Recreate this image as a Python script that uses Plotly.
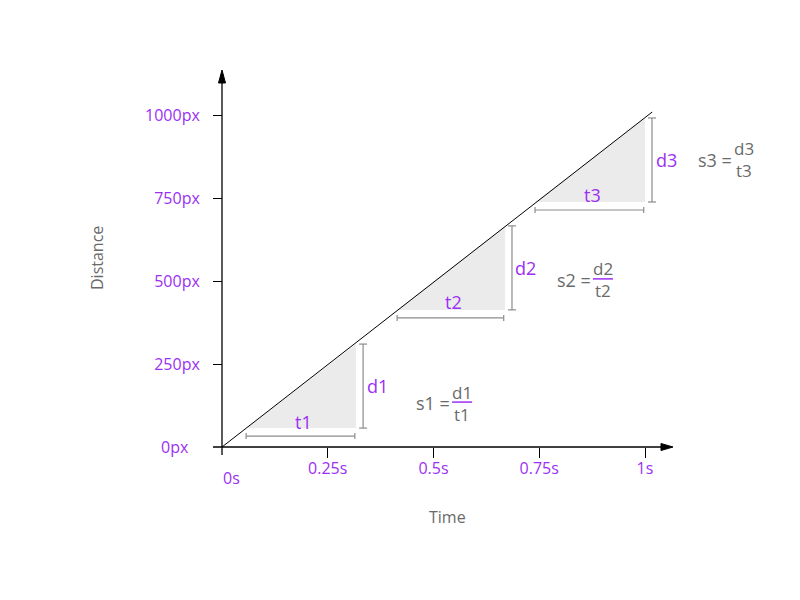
import plotly.graph_objects as go

# ---- data ----
line_t = [0.0, 1.017]
line_d = [0.0, 1009.0]

seg_names = ["1", "2", "3"]
t_start = [0.057, 0.414, 0.740]
t_end = [0.317, 0.669, 1.000]
d_start = [57.0, 413.0, 738.0]
d_end = [310.0, 666.0, 991.0]

x_tickvals = [0.25, 0.5, 0.75, 1.0]
x_ticktext = ["0.25s", "0.5s", "0.75s", "1s"]
y_tickvals = [250, 500, 750, 1000]
y_ticktext = ["250px", "500px", "750px", "1000px"]

# ---- styles ----
PURPLE = "#9b30f5"
GRAY_TXT = "#6a6a6a"
DIM = "#8c8c8c"
FILL = "#ebebeb"
FONT = "Open Sans"

# page offset (browser body margin)
OFF = 8
# geometry of the plot area (pixels, in screenshot coordinates)
W, H = 800, 600
L, R, T, B = 213 - OFF, 120 + OFF, 60 - OFF, 145 + OFF
pw, ph = W - L - R, H - T - B
x0_px, y0_px = 222 - OFF, 447 - OFF
x_scale = 423.0   # px per second
y_scale = 0.332   # px per distance px
x_range = [(L - x0_px) / x_scale, (W - R - x0_px) / x_scale]
y_range = [(y0_px - (H - B)) / y_scale, (y0_px - T) / y_scale]

fig = go.Figure()

# shaded triangles
for i in range(3):
    fig.add_trace(go.Scatter(
        x=[t_start[i], t_end[i], t_end[i], t_start[i]],
        y=[d_start[i], d_start[i], d_end[i], d_start[i]],
        fill="toself", fillcolor=FILL, mode="lines",
        line=dict(width=0, color=FILL), hoverinfo="skip", showlegend=False))

# main line
fig.add_trace(go.Scatter(x=line_t, y=line_d, mode="lines",
                         line=dict(color="black", width=1), showlegend=False))

shapes = []
annotations = []

# axes lines and arrowheads (pixel-sized relative to origin)
shapes.append(dict(type="line", xref="x", yref="y", xsizemode="pixel", ysizemode="pixel",
                   xanchor=0, yanchor=0, x0=-9, x1=441, y0=0, y1=0,
                   line=dict(color="black", width=1.3)))
shapes.append(dict(type="path", xref="x", yref="y", xsizemode="pixel", ysizemode="pixel",
                   xanchor=0, yanchor=0, path="M 439,3.5 L 451,0 L 439,-3.5 Z",
                   fillcolor="black", line=dict(color="black", width=1)))
shapes.append(dict(type="line", xref="x", yref="y", xsizemode="pixel", ysizemode="pixel",
                   xanchor=0, yanchor=0, x0=0, x1=0, y0=-10, y1=365,
                   line=dict(color="black", width=1.3)))
shapes.append(dict(type="path", xref="x", yref="y", xsizemode="pixel", ysizemode="pixel",
                   xanchor=0, yanchor=0, path="M -3.5,364 L 0,377 L 3.5,364 Z",
                   fillcolor="black", line=dict(color="black", width=1)))

s_dx = [60, 52, 53]
s_dy = [17, 12, 0]
t_dy = [6, 8, 7]
for i in range(3):
    n = seg_names[i]
    ymid = (d_start[i] + d_end[i]) / 2
    tmid = (t_start[i] + t_end[i]) / 2
    # t dimension (horizontal) below triangle
    shapes.append(dict(type="line", xref="x", yref="y", ysizemode="pixel", yanchor=d_start[i],
                       x0=t_start[i], x1=t_end[i] - 0.003, y0=-8, y1=-8,
                       line=dict(color=DIM, width=1.2)))
    for xx in (t_start[i], t_end[i] - 0.003):
        shapes.append(dict(type="line", xref="x", yref="y", ysizemode="pixel", yanchor=d_start[i],
                           x0=xx, x1=xx, y0=-5, y1=-11, line=dict(color=DIM, width=1.2)))
    # d dimension (vertical) right of triangle
    shapes.append(dict(type="line", xref="x", yref="y", xsizemode="pixel", xanchor=t_end[i],
                       x0=7, x1=7, y0=d_start[i], y1=d_end[i],
                       line=dict(color=DIM, width=1.2)))
    for yy in (d_start[i], d_end[i]):
        shapes.append(dict(type="line", xref="x", yref="y", xsizemode="pixel", xanchor=t_end[i],
                           x0=3, x1=11, y0=yy, y1=yy, line=dict(color=DIM, width=1.2)))
    # labels
    annotations.append(dict(x=tmid, y=d_start[i], xref="x", yref="y", text="t" + n,
                            showarrow=False, yshift=t_dy[i], xshift=2,
                            font=dict(color=PURPLE, size=18, family=FONT)))
    annotations.append(dict(x=t_end[i], y=ymid, xref="x", yref="y", text="d" + n,
                            showarrow=False, xshift=21,
                            font=dict(color=PURPLE, size=18, family=FONT)))
    # speed formula
    annotations.append(dict(x=t_end[i], y=ymid, xref="x", yref="y", text="s" + n + " =",
                            showarrow=False, xanchor="left", xshift=s_dx[i] - 2, yshift=-s_dy[i],
                            font=dict(color=GRAY_TXT, size=18, family=FONT)))
    annotations.append(dict(x=t_end[i], y=ymid, xref="x", yref="y", text="d" + n,
                            showarrow=False, xshift=s_dx[i] + 46, yshift=-s_dy[i] + 11,
                            borderpad=0,
                            font=dict(color=GRAY_TXT, size=17, family=FONT)))
    annotations.append(dict(x=t_end[i], y=ymid, xref="x", yref="y", text="t" + n,
                            showarrow=False, xshift=s_dx[i] + 46, yshift=-s_dy[i] - 11,
                            borderpad=0,
                            font=dict(color=GRAY_TXT, size=17, family=FONT)))
    shapes.append(dict(type="line", xref="x", yref="y", xsizemode="pixel", ysizemode="pixel",
                       xanchor=t_end[i], yanchor=ymid,
                       x0=s_dx[i] + 36, x1=s_dx[i] + 56, y0=-s_dy[i] + 1, y1=-s_dy[i] + 1,
                       line=dict(color=PURPLE, width=1.5)))

# origin labels
annotations.append(dict(x=0, y=0, xref="x", yref="y", text="0px", showarrow=False,
                        xshift=-47, font=dict(color=PURPLE, size=16, family=FONT)))
annotations.append(dict(x=0, y=0, xref="x", yref="y", text="0s", showarrow=False,
                        xshift=9, yshift=-31, font=dict(color=PURPLE, size=16, family=FONT)))
# axis titles
annotations.append(dict(x=0, y=0, xref="x", yref="y", text="Distance", showarrow=False,
                        textangle=-90, xshift=-125, yshift=189,
                        font=dict(color=GRAY_TXT, size=16, family=FONT)))
annotations.append(dict(x=0, y=0, xref="x", yref="y", text="Time", showarrow=False,
                        xshift=225, yshift=-70,
                        font=dict(color=GRAY_TXT, size=16, family=FONT)))

fig.update_layout(
    width=W, height=H,
    margin=dict(l=L, r=R, t=T, b=B),
    paper_bgcolor="white", plot_bgcolor="white",
    showlegend=False,
    shapes=shapes, annotations=annotations,
    xaxis=dict(range=x_range, tickvals=x_tickvals, ticktext=x_ticktext,
               anchor="free", position=(H - B - y0_px) / ph,
               ticks="outside", ticklen=10, tickcolor="black", tickwidth=1.3,
               ticklabelstandoff=-3,
               showgrid=False, zeroline=False, showline=False,
               tickfont=dict(color=PURPLE, size=16, family=FONT)),
    yaxis=dict(range=y_range, tickvals=y_tickvals, ticktext=y_ticktext,
               anchor="free", position=(x0_px - L) / pw,
               ticks="outside", ticklen=9, tickcolor="black", tickwidth=1.3,
               ticklabelstandoff=10,
               showgrid=False, zeroline=False, showline=False,
               tickfont=dict(color=PURPLE, size=16, family=FONT)),
)

fig.write_html("out.html")
